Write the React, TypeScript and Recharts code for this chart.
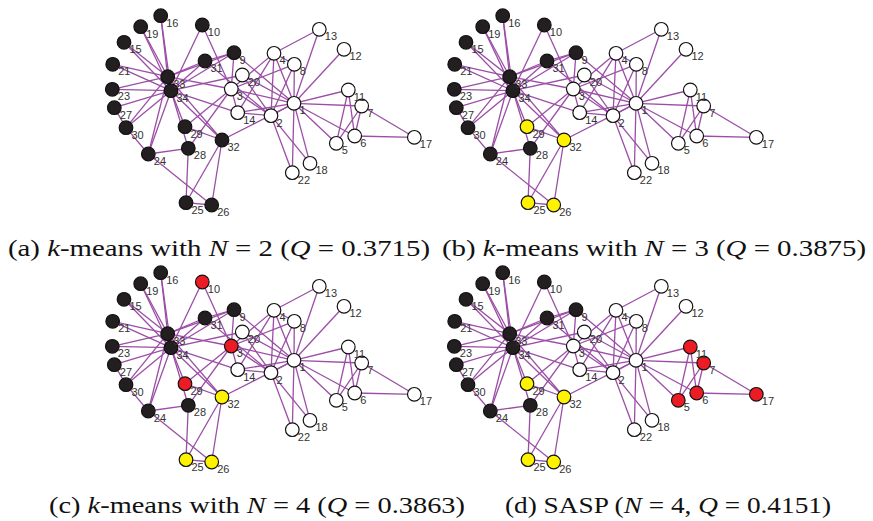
import React from 'react'
import { ScatterChart, Scatter, XAxis, YAxis } from 'recharts'

// node layout (Zachary karate club), in layout units
const nodeIds = [
  1, 2, 3, 4, 5, 6, 7, 8, 9, 10, 11, 12, 13, 14, 15, 16, 17,
  18, 19, 20, 21, 22, 23, 24, 25, 26, 27, 28, 29, 30, 31, 32, 33, 34,
]
const nodeX = [
  294, 271, 231.3, 274, 336.3, 354.7, 361.7, 294.3, 234, 202.3, 348.3, 344, 319.3, 237.7, 124, 160.7, 414.3,
  310, 140.7, 242.3, 112.7, 292.3, 112.3, 148.3, 186, 211.7, 114.3, 188.3, 185, 126, 205, 222, 167.7, 171,
]
const nodeY = [
  103.3, 115.7, 89, 53.3, 143.3, 136, 106, 64.3, 52.7, 25, 90, 49.3, 29.3, 112.7, 42.3, 15.7, 137.3,
  163.3, 26.7, 75, 64.3, 172.7, 89.3, 154, 202.7, 205, 107.7, 148.3, 126.7, 127.7, 61, 140, 76.7, 90.7,
]

const edges: [number, number][] = [
  [1, 2], [1, 3], [1, 4], [1, 5], [1, 6], [1, 7], [1, 8], [1, 9], [1, 11], [1, 12], [1, 13], [1, 14],
  [1, 18], [1, 20], [1, 22], [1, 32], [2, 3], [2, 4], [2, 8], [2, 14], [2, 18], [2, 20], [2, 22], [2, 31],
  [3, 4], [3, 8], [3, 9], [3, 10], [3, 14], [3, 28], [3, 29], [3, 33], [4, 8], [4, 13], [4, 14],
  [5, 7], [5, 11], [6, 7], [6, 11], [6, 17], [7, 17], [9, 31], [9, 33], [9, 34], [10, 34], [14, 34],
  [15, 33], [15, 34], [16, 33], [16, 34], [19, 33], [19, 34], [20, 34], [21, 33], [21, 34], [23, 33],
  [23, 34], [24, 26], [24, 28], [24, 30], [24, 33], [24, 34], [25, 26], [25, 28], [25, 32], [26, 32],
  [27, 30], [27, 34], [28, 34], [29, 32], [29, 34], [30, 33], [30, 34], [31, 33], [31, 34], [32, 33],
  [32, 34], [33, 34],
]

// community membership per panel (nodes not listed are white)
const blackA = [9, 10, 15, 16, 19, 21, 23, 24, 25, 26, 27, 28, 29, 30, 31, 32, 33, 34]
const blackB = [9, 10, 15, 16, 19, 21, 23, 24, 27, 28, 30, 31, 33, 34]
const yellowB = [25, 26, 29, 32]
const blackC = [9, 15, 16, 19, 21, 23, 24, 27, 28, 30, 31, 33, 34]
const yellowC = [25, 26, 32]
const redC = [3, 10, 29]
const blackD = [9, 10, 15, 16, 19, 21, 23, 24, 27, 28, 30, 31, 33, 34]
const yellowD = [25, 26, 29, 32]
const redD = [5, 6, 7, 11, 17]

const captionA = ['(a) ', '*k', '-means with ', '*N', ' = 2 (', '*Q', ' = 0.3715)']
const captionB = ['(b) ', '*k', '-means with ', '*N', ' = 3 (', '*Q', ' = 0.3875)']
const captionC = ['(c) ', '*k', '-means with ', '*N', ' = 4 (', '*Q', ' = 0.3863)']
const captionD = ['(d) SASP (', '*N', ' = 4, ', '*Q', ' = 0.4151)']

const EDGE = '#9b4ea6'
const BLACK = '#231f20'
const YELLOW = '#fff200'
const RED = '#ed1c24'

const NodeShape = (props: any) => {
  const { cx, cy, payload } = props
  return <circle cx={cx} cy={cy} r={6.8} fill={payload.fill} stroke="#111" strokeWidth={1.2} />
}

const LabelShape = (props: any) => {
  const { cx, cy, payload } = props
  return (
    <text x={cx + 5.5} y={cy + 11} fontSize={11} fontFamily="'Liberation Sans', Arial, sans-serif" fill="#333">
      {payload.id}
    </text>
  )
}

const Empty = () => <g />

interface PanelProps {
  left: number
  top: number
  black: number[]
  yellow?: number[]
  red?: number[]
}

function Panel({ left, top, black, yellow = [], red = [] }: PanelProps) {
  const nodes = nodeIds.map((id, i) => ({
    id,
    x: nodeX[i],
    y: nodeY[i],
    fill: red.includes(id) ? RED : yellow.includes(id) ? YELLOW : black.includes(id) ? BLACK : '#fff',
  }))

  return (
    <div style={{ position: 'absolute', left, top }}>
      <ScatterChart width={350} height={225} margin={{ top: 0, right: 0, bottom: 0, left: 0 }}>
        <XAxis type="number" dataKey="x" domain={[90, 440]} allowDataOverflow hide />
        <YAxis type="number" dataKey="y" domain={[0, 225]} allowDataOverflow reversed hide width={0} />
        {edges.map(([s, t], k) => (
          <Scatter
            key={`e-${k}`}
            data={[nodes[s - 1], nodes[t - 1]]}
            line={{ stroke: EDGE, strokeWidth: 1.3 }}
            shape={Empty}
            isAnimationActive={false}
          />
        ))}
        <Scatter data={nodes} shape={NodeShape} isAnimationActive={false} />
        <Scatter data={nodes} shape={LabelShape} isAnimationActive={false} />
      </ScatterChart>
    </div>
  )
}

function Caption({ x, y, w, parts }: { x: number; y: number; w: number; parts: string[] }) {
  return (
    <text x={x} y={y} textLength={w} lengthAdjust="spacingAndGlyphs" fontSize={24}
      fontFamily="'Liberation Serif', 'Times New Roman', serif" fill="#111" style={{ whiteSpace: 'pre' }}>
      {parts.map((p, i) =>
        p.startsWith('*')
          ? <tspan key={i} fontStyle="italic">{p.slice(1)}</tspan>
          : <tspan key={i}>{p}</tspan>
      )}
    </text>
  )
}

export default function App() {
  return (
    <div style={{ position: 'absolute', left: 0, top: 0, width: 873, height: 521, background: '#fff' }}>
      <Panel left={90} top={0} black={blackA} />
      <Panel left={432} top={0} black={blackB} yellow={yellowB} />
      <Panel left={90} top={257} black={blackC} yellow={yellowC} red={redC} />
      <Panel left={432} top={257} black={blackD} yellow={yellowD} red={redD} />
      <svg width={873} height={521} style={{ position: 'absolute', left: 0, top: 0, pointerEvents: 'none' }}>
        <Caption x={8} y={256} w={422} parts={captionA} />
        <Caption x={442} y={256} w={424} parts={captionB} />
        <Caption x={49} y={513} w={416} parts={captionC} />
        <Caption x={505} y={513} w={326} parts={captionD} />
      </svg>
    </div>
  )
}
